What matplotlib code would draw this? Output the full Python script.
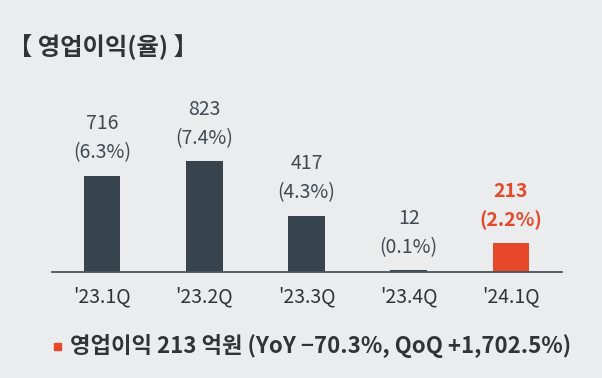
import numpy as np
import matplotlib.pyplot as plt
from matplotlib.patches import Rectangle

plt.rcParams['font.family'] = ['Noto Sans CJK KR', 'DejaVu Sans']

quarters = ["'23.1Q", "'23.2Q", "'23.3Q", "'23.4Q", "'24.1Q"]
profit = [716, 823, 417, 12, 213]
margin = ['(6.3%)', '(7.4%)', '(4.3%)', '(0.1%)', '(2.2%)']

bg = '#ebecee'
dark = '#37444d'
orange = '#e5492a'
txt = '#3f4a52'

fig = plt.figure(figsize=(6.02, 3.78), dpi=100, facecolor=bg)
ax = fig.add_axes([0.0, 0.2804, 1.0, 0.5608])
ax.set_facecolor(bg)

x = np.arange(len(quarters))
colors = [dark] * 4 + [orange]
ax.bar(x, profit, width=0.36, color=colors, zorder=2)

# x axis runs from ~52px to ~562px; convert to data coords
px_per_unit = 102.25
left = -(102 - 52) / px_per_unit
right = 4 + (562 - 511) / px_per_unit
ax.set_xlim(-102 / px_per_unit, 6.02 * 100 / px_per_unit - 102 / px_per_unit)
ax.set_ylim(0, 212 / 0.1345)

ax.plot([left, right], [0, 0], color='#4a555c', lw=1.3, zorder=3, clip_on=False)

for s in ax.spines.values():
    s.set_visible(False)
ax.set_yticks([])
ax.set_xticks([])

for i, (v, m) in enumerate(zip(profit, margin)):
    c = orange if i == 4 else txt
    w = 'bold' if i == 4 else 'normal'
    ax.annotate(str(v), (i, v), xytext=(0, 52 * 0.72), textcoords='offset points',
                ha='center', va='center', fontsize=14, color=c, fontweight=w)
    ax.annotate(m, (i, v), xytext=(0, 23 * 0.72), textcoords='offset points',
                ha='center', va='center', fontsize=14, color=c, fontweight=w)
    ax.annotate(quarters[i], (i, 0), xytext=(0, -25 * 0.72), textcoords='offset points',
                ha='center', va='center', fontsize=14, color='#333333')

fig.text(8 / 602, 1 - 47 / 378, '【 영업이익(율) 】', fontsize=17.5, fontweight='bold',
         color='#333333', ha='left', va='center')
fig.patches.append(Rectangle((54 / 602, 1 - 350 / 378), 7 / 602, 7 / 378,
                             transform=fig.transFigure, color=orange))
fig.text(70 / 602, 1 - 346 / 378, '영업이익 213 억원 (YoY −70.3%, QoQ +1,702.5%)',
         fontsize=16, fontweight='bold', color='#333333', ha='left', va='center')

fig.savefig('out.png', dpi=100, facecolor=bg)
